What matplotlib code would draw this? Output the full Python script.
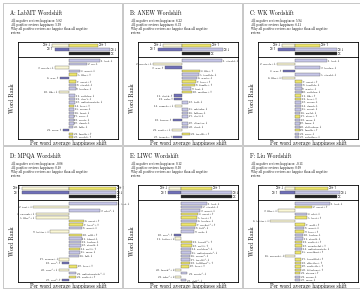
import matplotlib
matplotlib.use('Agg')
import matplotlib.pyplot as plt
from matplotlib.patches import Rectangle

plt.rcParams['font.family'] = ['cmr10', 'DejaVu Serif']
plt.rcParams['axes.unicode_minus'] = False

W, H = 360, 291

# ---- data ----
titles = ['A: LabMT Wordshift', 'B: ANEW Wordshift', 'C: WK Wordshift',
          'D: MPQA Wordshift', 'E: LIWC Wordshift', 'F: Liu Wordshift']
neg_happs = ['5.82', '6.22', '5.94', '-0.06', '0.12', '-0.13']
pos_happs = ['5.99', '6.33', '6.11', '0.18', '0.30', '0.09']

# summary bars: sum(+down), sum(+up), sum(-up), sum(-down), total
sum_A = [-0.34, 0.58, -0.28, 0.82, 0.82]
sum_B = [-0.38, 0.58, -0.48, 0.82, 0.56]
sum_C = [-0.26, 0.50, -0.34, 0.84, 0.84]
sum_D = [-0.94, 0.94, -0.94, 0.94, 0.94]
sum_E = [-0.24, 0.60, -0.26, 1.00, 1.00]
sum_F = [-0.20, 0.66, -0.30, 0.90, 0.84]

words_A = ['bad-↓', 'no-↓', 'movie+↓', 'worst-↓', 'like+↑', 'was-↑', 'great+↑',
           'stupid-↓', 'boring-↓', 'life+↓', 'nothing-↓', "don't-↓",
           'unfortunately-↓', 'love+↑', 'worse-↓', 'least-↓', 'poor-↓',
           'waste-↓', 'dumb-↓', 'fails-↓', 'wars-↑', 'family+↑', 'world+↑']
vals_A = [0.62, 0.36, -0.28, 0.22, 0.16, -0.18, 0.14, 0.14, 0.13, -0.20, 0.12,
          0.11, 0.11, 0.10, 0.10, 0.10, 0.09, 0.09, 0.09, 0.08, -0.12, 0.08, 0.08]

words_B = ['stupid-↓', 'movie+↓', 'war-↑', 'life+↑', 'terrible-↓', 'waste-↓',
           'love+↑', 'family+↑', 'lost-↓', 'mother+↑', 'death-↑', 'pain-↑',
           'hell-↓', 'comedy+↓', 'mistake-↓', 'failure-↓', 'devil-↓', 'horror-↑',
           'disaster-↓', 'dead-↓', 'pretty+↓', 'terrific+↑', 'tragedy-↑']
vals_B = [0.80, -0.58, -0.34, 0.36, 0.34, 0.30, 0.28, 0.26, 0.18, 0.20, -0.16,
          -0.16, 0.12, -0.14, 0.12, 0.12, 0.12, -0.18, 0.12, 0.12, -0.20, 0.16, -0.18]

words_C = ['bad-↓', 'movie+↓', 'boring-↓', 'was-↑', 'stupid-↓', 'like+↓',
           'great+↑', 'terrible-↓', 'waste-↓', 'nothing-↓', 'life+↑', 'love+↑',
           'worse-↓', 'dumb-↓', 'worst-↓', 'awful-↓', 'story+↑', 'mess-↓',
           'lame-↓', 'ridiculous-↓', 'family+↑', 'poor-↓', 'pointless-↓']
vals_C = [0.64, -0.36, 0.50, -0.24, 0.50, -0.26, 0.14, 0.14, 0.13, 0.13, 0.12,
          0.12, 0.12, 0.11, 0.11, 0.10, 0.10, 0.10, 0.09, 0.09, 0.09, 0.08, 0.08]

words_D = ['bad-↓', 'just+↓', 'plot*-↓', 'enough+↓', 'like*+↓', 'great+↑',
           'best*+↑', 'worst-↓', 'better+↓', 'will+↑', 'bland-↓', 'boring-↓',
           'stupid-↓', 'well+↑', 'mess-↓', 'fail-↓', 'reason+↓', 'war*-↑',
           'love+↑', 'care*+↓', 'unfortunately*-↓', 'perfect+↑', 'cost*-↑']
vals_D = [0.96, -0.72, 0.62, -0.66, -0.66, 0.30, 0.28, 0.26, -0.38, 0.26, 0.25,
          0.24, 0.24, 0.22, 0.22, 0.20, -0.20, -0.15, 0.16, -0.20, 0.14, 0.14, -0.14]

words_E = ['bad-↓', 'stupid-↓', 'worst-↓', 'great+↑', 'best+↑', 'boring-↓',
           'perfect*+↑', 'fail*-↓', 'ugly-↓', 'war*-↑', 'better+↓', 'beauti*+↑',
           'well+↑', 'problem*-↓', 'unfortunate*-↓', 'worse*-↓', 'terribl*-↓',
           'brilliant*+↑', 'love+↑', 'laugh*+↓', 'waste*-↓', 'joke*+↓', 'dull*-↓']
vals_E = [0.50, 0.40, 0.36, 0.32, 0.30, 0.30, 0.28, 0.26, 0.24, -0.14, -0.12,
          0.20, 0.20, 0.18, 0.18, 0.16, 0.16, 0.16, 0.14, -0.12, 0.12, -0.12, 0.10]

words_F = ['bad-↓', 'great+↑', 'like+↓', 'plot-↓', 'best+↑', 'better+↓',
           'well+↑', 'worst-↓', 'love+↑', 'boring-↓', 'stupid-↓', 'perfect+↑',
           'wonderful+↑', 'unfortunately-↓', 'excellent+↑', 'enough+↓',
           'beautiful+↑', 'effective+↑', 'perfectly+↑', 'hilarious+↑',
           'strong+↑', 'worse-↓', 'mess-↓']
vals_F = [0.70, 0.34, -0.34, 0.24, 0.24, -0.50, 0.20, 0.18, 0.18, 0.16, 0.16,
          0.14, 0.14, 0.14, 0.12, -0.20, 0.12, 0.12, 0.11, 0.11, 0.10, 0.10, 0.10]

# x range of each panel (zero is not centred)
xlims = [(-1.02, 0.98), (-0.88, 1.12), (-0.74, 1.26),
         (-1.02, 0.98), (-0.86, 1.12), (-0.74, 1.26)]

colors = {'+↑': '#eee66a', '+↓': '#fbf8d6', '-↑': '#6f6fb8', '-↓': '#c6c6e8'}


def px_axes(fig, x0, y0, x1, y1):
    return fig.add_axes([x0 / W, 1 - y1 / H, (x1 - x0) / W, (y1 - y0) / H])


def draw_panel(fig, k, sums, words, vals):
    col, row = k % 3, k // 3
    bx0 = [18, 138, 258][col]
    bx1 = bx0 + 100
    oy = [0, 143][row]

    fig.patches.append(Rectangle(((bx0 - 15) / W, 1 - (oy + 145) / H),
                                 119 / W, 142 / H, transform=fig.transFigure,
                                 fill=False, edgecolor='#b0b0b0', lw=0.5))

    fig.text((bx0 - 8) / W, 1 - (oy + 13) / H, titles[k], fontsize=4.0, va='center')
    lines = ['All negative reviews happiness: ' + neg_happs[k],
             'All positive reviews happiness: ' + pos_happs[k],
             'Why all positive reviews are happier than all negative',
             'reviews']
    for i, t in enumerate(lines):
        fig.text((bx0 - 7) / W, 1 - (oy + 21 + 4 * i) / H, t, fontsize=2.25, va='center')

    # summary box
    ax = px_axes(fig, bx0, oy + 42, bx1, oy + 57)
    lab = ['Σ+↓', 'Σ+↑', 'Σ-↑', 'Σ-↓', 'Σ']
    cols = [colors['+↓'], colors['+↑'], colors['-↑'], colors['-↓'], '#222222']
    ys = [1, 1, 2, 2, 3]
    for v, y, c, t in zip(sums, ys, cols, lab):
        ax.barh(y, v, height=0.75, color=c, edgecolor='#555555', lw=0.25)
        off = 0.02 if v > 0 else -0.02
        ax.text(v + off, y, t, fontsize=2.6, va='center', family='DejaVu Serif',
                ha='left' if v > 0 else 'right', clip_on=False)
    ax.set_xlim(*xlims[k])
    ax.set_ylim(3.75, 0.25)
    ax.set_xticks([])
    ax.set_yticks([])
    for s in ax.spines.values():
        s.set_linewidth(0.6)

    # word box
    ax = px_axes(fig, bx0, oy + 57, bx1, oy + 139)
    ranks = list(range(1, len(words) + 1))
    for r, w, v in zip(ranks, words, vals):
        ax.barh(r, v, height=0.7, color=colors[w[-2:]], edgecolor='#555555', lw=0.25)
        off = 0.02 if v > 0 else -0.02
        ax.text(v + off, r, '%d. %s' % (r, w), fontsize=2.2, va='center',
                ha='left' if v > 0 else 'right')
    ax.set_xlim(*xlims[k])
    ax.set_ylim(23.5, 0)
    ax.set_xticks([])
    ax.set_yticks([])
    for s in ax.spines.values():
        s.set_linewidth(0.6)
    ax.set_ylabel('Word Rank', fontsize=4.2, labelpad=2)
    ax.set_xlabel('Per word average happiness shift', fontsize=3.9, labelpad=1)


fig = plt.figure(figsize=(W / 100, H / 100), dpi=100)
all_sums = [sum_A, sum_B, sum_C, sum_D, sum_E, sum_F]
all_words = [words_A, words_B, words_C, words_D, words_E, words_F]
all_vals = [vals_A, vals_B, vals_C, vals_D, vals_E, vals_F]
for k in range(6):
    draw_panel(fig, k, all_sums[k], all_words[k], all_vals[k])

fig.savefig('out.png', dpi=100)
